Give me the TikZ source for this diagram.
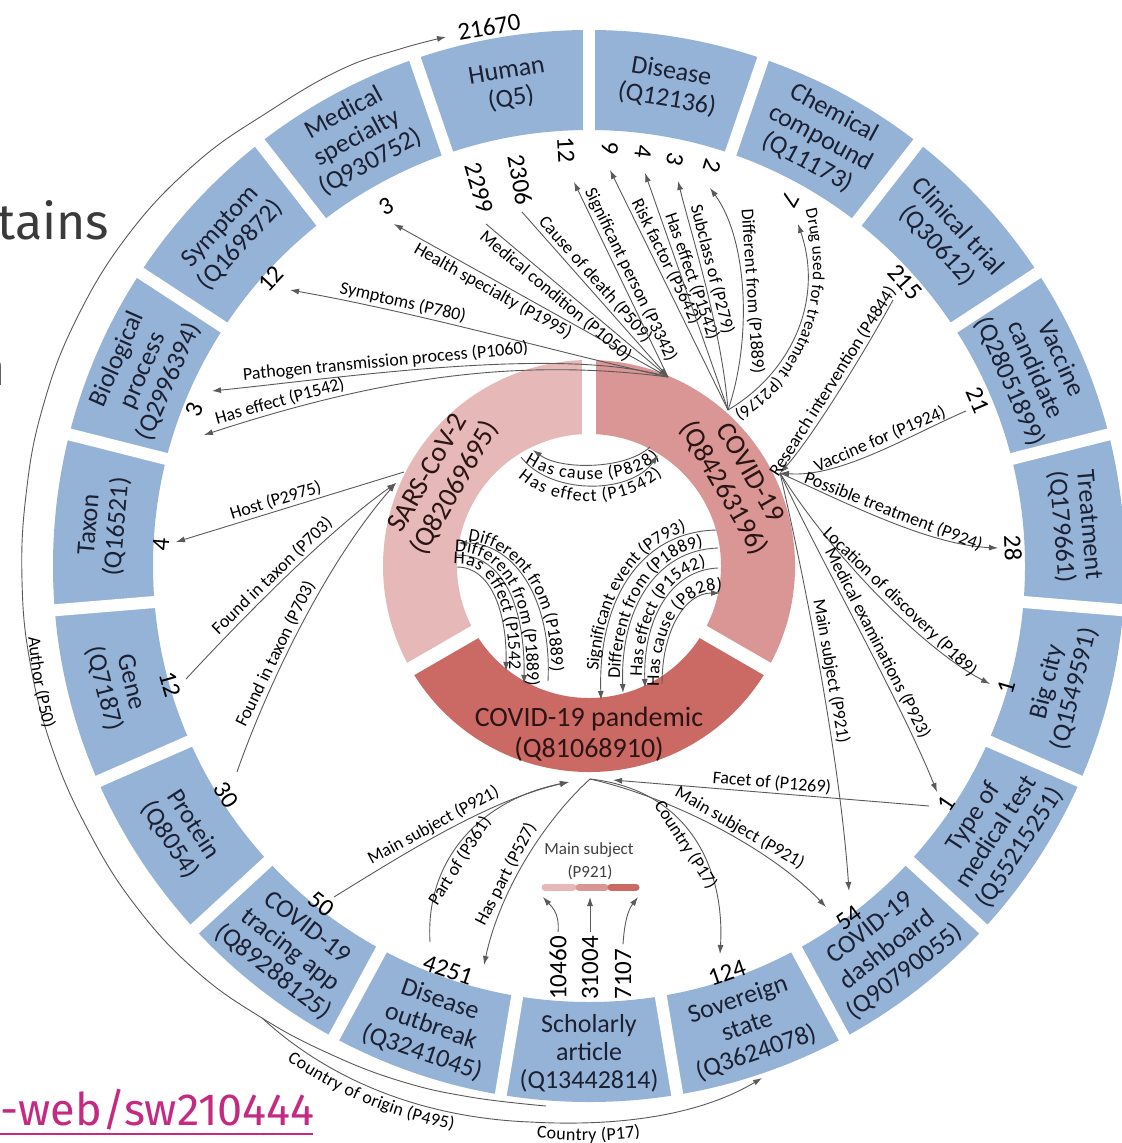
\documentclass[tikz,border=0pt]{standalone}
\usepackage{fontspec}
\setmainfont{Carlito}
\newfontfamily\slidefont{Fira Sans}
\usetikzlibrary{arrows.meta,decorations.text}
\definecolor{boxblue}{HTML}{95B3D7}
\definecolor{sarscol}{HTML}{E6B9B8}
\definecolor{covidcol}{HTML}{D99694}
\definecolor{pandcol}{HTML}{CB6964}
\definecolor{boxtext}{HTML}{1C2033}
\definecolor{ringtext}{HTML}{2B1414}
\definecolor{edgecol}{HTML}{5A5A5A}
\definecolor{linkpink}{HTML}{C52A82}
\definecolor{slidegray}{HTML}{3A3A3A}
\newcommand\labfont{\fontsize{9}{10}\selectfont}
\newcommand\tightlabfont{\fontsize{8.5}{10}\selectfont}
\begin{document}
\begin{tikzpicture}[x={(0.5pt,0)}, y={(0,-0.5pt)},
  boxlab/.style={font=\fontsize{13}{14}\selectfont, text=boxtext, align=center, inner sep=0pt},
  ringlab/.style={font=\fontsize{14}{15.5}\selectfont, text=ringtext, align=center, inner sep=0pt},
  numlab/.style={font=\fontsize{12.5}{14}\selectfont, inner sep=0pt},
  lab/.style={font=\labfont, inner sep=1pt},
  conn/.style={draw=edgecol, line width=0.45pt},
  arrowend/.style={-{Latex[length=4.5pt,width=3pt]}},
]
% page
\fill[white] (0,0) rectangle (1121,1143);
\useasboundingbox (0,0) rectangle (1121,1143);

% fragments of the surrounding slide
\node[anchor=base west, inner sep=0pt, font=\slidefont\fontsize{25}{28}\selectfont, text=slidegray] (slideword) at (-3,240) {tains};
\node[anchor=base east, inner sep=0pt, font=\slidefont\fontsize{25}{28}\selectfont, text=slidegray] (slideletter) at (6,386) {n};
\node[anchor=base west, inner sep=0pt, font=\slidefont\fontsize{22.5}{26}\selectfont, text=linkpink] (slidelink) at (0,1125) {-web/sw210444};
\draw[linkpink, line width=1.2pt] (0,1134) -- (313,1134);

% outer ring of classes
\fill[boxblue, even odd rule] (589,566) circle[radius=536] (589,566) circle[radius=436];
\foreach \k in {0,...,18}{
  \pgfmathsetmacro{\b}{279.4737+\k*18.9474}
  \draw[white, line width=6pt] ({589+425*cos(\b)},{566-425*sin(\b)}) -- ({589+547*cos(\b)},{566-547*sin(\b)});
}
\foreach \a/\t/\n in {
  270/{Scholarly\\article\\(Q13442814)}/bScholarly,
  288.95/{Sovereign\\state\\(Q3624078)}/bSovereign,
  307.89/{COVID-19\\dashboard\\(Q90790055)}/bDashboard,
  326.84/{Type of\\medical test\\(Q55215251)}/bTest,
  345.79/{Big city\\(Q1549591)}/bCity,
  4.74/{Treatment\\(Q179661)}/bTreatment,
  23.68/{Vaccine\\candidate\\(Q28051899)}/bVaccine,
  42.63/{Clinical trial\\(Q30612)}/bTrial,
  61.58/{Chemical\\compound\\(Q11173)}/bChemical,
  80.53/{Disease\\(Q12136)}/bDisease,
  99.47/{Human\\(Q5)}/bHuman,
  118.42/{Medical\\specialty\\(Q930752)}/bSpecialty,
  137.37/{Symptom\\(Q169872)}/bSymptom,
  156.32/{Biological\\process\\(Q2996394)}/bProcess,
  175.26/{Taxon\\(Q16521)}/bTaxon,
  194.21/{Gene\\(Q7187)}/bGene,
  213.16/{Protein\\(Q8054)}/bProtein,
  232.11/{COVID-19\\tracing app\\(Q89288125)}/bApp,
  251.05/{Disease\\outbreak\\(Q3241045)}/bOutbreak}{
  \pgfmathsetmacro{\r}{\a<180 ? \a-90 : \a+90}
  \node[boxlab, rotate=\r] (\n) at ({589+487*cos(\a)},{566-487*sin(\a)}) {\t};
}

% inner ring
\begin{scope}[shift={(589,566)}]
  \fill[sarscol] (-90:206) arc[start angle=-90,end angle=-210,radius=206] -- (-210:132) arc[start angle=-210,end angle=-90,radius=132] -- cycle;
  \fill[covidcol] (30:206) arc[start angle=30,end angle=-90,radius=206] -- (-90:132) arc[start angle=-90,end angle=30,radius=132] -- cycle;
  \fill[pandcol] (-210:206) arc[start angle=-210,end angle=-330,radius=206] -- (-330:132) arc[start angle=-330,end angle=-210,radius=132] -- cycle;
  \foreach \g in {90,210,330} \draw[white, line width=7pt] (-\g:124) -- (-\g:214);
\end{scope}
\node[ringlab, rotate=60] (sars) at (442,481) {SARS-CoV-2\\(Q82069695)};
\node[ringlab, rotate=-60] (covid) at (736,481) {COVID-19\\(Q84263196)};
\node[ringlab] (pand) at (589,734) {COVID-19 pandemic\\(Q81068910)};

% hubs on the inner ring
\coordinate (hA) at (668,377);
\coordinate (hB) at (728,410);
\coordinate (hC) at (780,473);
\coordinate (hD) at (590,779);
\coordinate (hDl) at (569,782);
\coordinate (hDr) at (613,780);
\coordinate (hE) at (396,483);
\coordinate (hE2) at (404,472);

% ends near the outer ring
\coordinate (tSym) at (290,290);
\coordinate (tPat) at (212,391);
\coordinate (tHef) at (204,435);
\coordinate (tHsp) at (394,224);
\coordinate (sMc) at (486,224);
\coordinate (sCod) at (522,212);
\coordinate (tSp) at (574,182);
\coordinate (tRf) at (610,170);
\coordinate (tHe) at (645,173);
\coordinate (tSub) at (678,181);
\coordinate (tDf) at (710,188);
\coordinate (tDrug) at (798,224);
\coordinate (sRi) at (893,300);
\coordinate (sVf) at (966,411);
\coordinate (tPt) at (998,548);
\coordinate (tLod) at (990,684);
\coordinate (tMe) at (937,792);
\coordinate (tMs1) at (849,891);
\coordinate (sFo) at (929,806);
\coordinate (tMs2) at (826,907);
\coordinate (tC124) at (720,954);
\coordinate (sMs50) at (334,897);
\coordinate (sPo) at (430,942);
\coordinate (tHp) at (484,965);
\coordinate (tHost) at (176,542);
\coordinate (sFt1) at (186,679);
\coordinate (sFt2) at (237,772);

% counts
\node[numlab, rotate=10] (n21670) at (489,27) {21670};
\node[numlab, rotate=47] (nSym) at (271,279) {12};
\node[numlab, rotate=68] (nBio) at (194,410) {3};
\node[numlab, rotate=29] (nMsp) at (386,206) {3};
\node[numlab, rotate=-74] (n2299) at (479,188) {2299};
\node[numlab, rotate=-80] (n2306) at (520,180) {2306};
\node[numlab, rotate=-87] (n12h) at (566,150) {12};
\node[numlab, rotate=-93] (n9) at (610,148) {9};
\node[numlab, rotate=-97] (n4) at (643,152) {4};
\node[numlab, rotate=-102] (n3) at (675,159) {3};
\node[numlab, rotate=-107] (n2) at (712,166) {2};
\node[numlab, rotate=-119] (n7) at (790,200) {7};
\node[numlab, rotate=-48] (n215) at (905,282) {215};
\node[numlab, rotate=-67] (n21) at (978,400) {21};
\node[numlab, rotate=-88] (n28) at (1013,548) {28};
\node[numlab, rotate=74] (n1bc) at (1006,687) {1};
\node[numlab, rotate=56] (n1tm) at (946,804) {1};
\node[numlab, rotate=36] (n54) at (849,918) {54};
\node[numlab, rotate=19] (n124) at (727,973) {124};
\node[numlab, rotate=90] (n10460) at (558,968) {10460};
\node[numlab, rotate=90] (n31004) at (590,968) {31004};
\node[numlab, rotate=90] (n7107) at (623,974) {7107};
\node[numlab, rotate=-19] (n4251) at (448,970) {4251};
\node[numlab, rotate=-38] (n50) at (321,904) {50};
\node[numlab, rotate=-57] (n30) at (226,795) {30};
\node[numlab, rotate=-74] (nGene) at (170,684) {12};
\node[numlab, rotate=85] (nTax) at (161,544) {4};

% COVID-19: upper left fan
\draw[conn,arrowend] (hA) .. controls (560,353) and (420,313) .. (tSym) node[lab,sloped,above,pos=0.72] (lSym) {Symptoms (P780)};
\draw[conn,arrowend] (hA) .. controls (560,345) and (340,378) .. (tPat) node[lab,sloped,above,pos=0.62] (lPat) {Pathogen transmission process (P1060)};
\draw[conn,arrowend] (hA) .. controls (520,358) and (385,376) .. (tHef) node[lab,sloped,above,pos=0.85] (lHef) {Has effect (P1542)};
\draw[conn,arrowend] (hA) -- (tHsp) node[lab,sloped,below,pos=0.62] (lHsp) {Health specialty (P1995)};
\draw[conn,arrowend] (sMc) -- (hA) node[lab,sloped,below,pos=0.42] (lMc) {Medical condition (P1050)};
\draw[conn,arrowend] (sCod) -- (hA) node[lab,sloped,above,pos=0.45] (lCod) {Cause of death (P509)};
\draw[conn,arrowend] (hA) -- (tSp) node[lab,sloped,above,pos=0.5] (lSp) {Significant person (P3342)};

% COVID-19: fan towards disease and chemical compound
\draw[conn,arrowend] (hB) -- (tRf) node[lab,sloped,above,pos=0.6] (lRf) {Risk factor (P5642)};
\draw[conn,arrowend] (hB) -- (tHe) node[lab,sloped,above,pos=0.55] (lHe) {Has effect (P1542)};
\draw[conn,arrowend] (hB) .. controls (722,330) and (690,230) .. (tSub) node[lab,sloped,above,pos=0.55] (lSub) {Subclass of (P279)};
\draw[conn,arrowend] (hB) .. controls (752,340) and (748,240) .. (tDf) node[lab,sloped,above,pos=0.5] (lDf) {Different from (P1889)};
\draw[conn,arrowend] (hB) .. controls (792,372) and (824,300) .. (tDrug);
\path[decorate, decoration={text along path, text={|\tightlabfont|Drug used for treatment (P2176)}, text align=center, raise=2pt}] (800,204) .. controls (826,300) and (794,374) .. (726,412);

% COVID-19: right fan
\draw[conn,arrowend] (sRi) .. controls (860,360) and (810,440) .. (hC) node[lab,sloped,above,pos=0.45] (lRi) {Research intervention (P4844)};
\draw[conn,arrowend] (sVf) .. controls (910,435) and (840,478) .. (hC) node[lab,sloped,above,pos=0.45] (lVf) {Vaccine for (P1924)};
\draw[conn,arrowend] (hC) .. controls (850,505) and (930,545) .. (tPt) node[lab,sloped,above,pos=0.5] (lPt) {Possible treatment (P924)};
\draw[conn,arrowend] (hC) .. controls (835,560) and (925,650) .. (tLod) node[lab,sloped,above,pos=0.55] (lLod) {Location of discovery (P189)};
\draw[conn,arrowend] (hC) .. controls (820,560) and (900,700) .. (tMe) node[lab,sloped,above,pos=0.55] (lMe) {Medical examinations (P923)};
\draw[conn,arrowend] (hC) .. controls (805,580) and (840,760) .. (tMs1) node[lab,sloped,above,pos=0.5] (lMs1) {Main subject (P921)};

% SARS-CoV-2: left fan
\draw[conn,arrowend] (hE2) -- (tHost) node[lab,sloped,above,pos=0.55] (lHost) {Host (P2975)};
\draw[conn,arrowend] (sFt1) .. controls (250,610) and (330,530) .. (hE) node[lab,sloped,above,pos=0.45] (lFt1) {Found in taxon (P703)};
\draw[conn,arrowend] (sFt2) .. controls (262,700) and (320,570) .. (hE) node[lab,sloped,above,pos=0.42] (lFt2) {Found in taxon (P703)};

% COVID-19 pandemic: lower fan
\draw[conn,arrowend] (sFo) -- (hDr) node[lab,sloped,above,pos=0.5] (lFo) {Facet of (P1269)};
\draw[conn,arrowend] (hD) .. controls (670,797) and (770,848) .. (tMs2) node[lab,sloped,above,pos=0.57] (lMs2) {Main subject (P921)};
\draw[conn,arrowend] (hD) .. controls (690,790) and (725,870) .. (tC124) node[lab,sloped,below,pos=0.5] (lC124) {Country (P17)};
\draw[conn,arrowend] (sMs50) .. controls (410,850) and (490,800) .. (hDl) node[lab,sloped,above,pos=0.45] (lMs50) {Main subject (P921)};
\draw[conn,arrowend] (sPo) .. controls (425,860) and (480,800) .. (hDl) node[lab,sloped,below,pos=0.4] (lPo) {Part of (P361)};
\draw[conn,arrowend] (hD) .. controls (545,820) and (500,890) .. (tHp) node[lab,sloped,above,pos=0.6] (lHp) {Has part (P527)};

% scholarly articles: main subject legend
\node[font=\fontsize{8.5}{10}\selectfont, text=black!75, inner sep=0pt] (legA) at (589,850) {Main subject};
\node[font=\fontsize{8.5}{10}\selectfont, text=black!75, inner sep=0pt] (legB) at (590,872) {(P921)};
\draw[sarscol, line width=3.5pt, line cap=round] (545,887) -- (573,887);
\draw[covidcol, line width=3.5pt, line cap=round] (579,887) -- (605,887);
\draw[pandcol, line width=3.5pt, line cap=round] (611,887) -- (636,887);
\coordinate (legL) at (543,897);
\coordinate (legM) at (590,897);
\coordinate (legR) at (638,897);
\draw[conn,arrowend] (n10460.east) ++(0,-4) .. controls (560,912) and (550,905) .. (legL);
\draw[conn,arrowend] (n31004.east) ++(0,-4) -- (legM);
\draw[conn,arrowend] (n7107.east) ++(0,-4) .. controls (625,912) and (632,905) .. (legR);

% arcs inside the inner ring
\draw[conn,arrowend] (650,447) .. controls (625,470) and (560,470) .. (533,450);
\path[decorate, decoration={text along path, text={|\labfont|Has cause (P828)}, text align=center, raise=-7.5pt}] (533,450) .. controls (560,470) and (625,470) .. (650,447);
\draw[conn,arrowend, postaction={decorate, decoration={text along path, text={|\labfont|Has effect (P1542)}, text align=center, raise=-8pt}}] (521,457) .. controls (550,495) and (630,495) .. (658,455);

\draw[conn,arrowend] (548,681) .. controls (552,600) and (515,543) .. (458,543);
\path[decorate, decoration={text along path, text={|\labfont|Different from (P1889)}, text align=center, raise=1.5pt}] (458,543) .. controls (515,543) and (552,600) .. (548,681);
\draw[conn,arrowend, postaction={decorate, decoration={text along path, text={|\labfont|Different from (P1889)}, text align=center, raise=1.5pt}}] (457,555) .. controls (505,555) and (525,610) .. (524,684);
\draw[conn,arrowend, postaction={decorate, decoration={text along path, text={|\labfont|Has effect (P1542)}, text align=center, raise=1.5pt}}] (457,567) .. controls (490,567) and (507,610) .. (506,671);

\draw[conn,arrowend] (716,530) .. controls (640,532) and (598,600) .. (601,700);
\path[decorate, decoration={text along path, text={|\labfont|Significant event (P793)}, text align=center, raise=1.5pt}] (601,700) .. controls (598,600) and (640,532) .. (716,530);
\draw[conn,arrowend] (718,548) .. controls (655,550) and (620,610) .. (623,693);
\path[decorate, decoration={text along path, text={|\labfont|Different from (P1889)}, text align=center, raise=1.5pt}] (623,693) .. controls (620,610) and (655,550) .. (718,548);
\draw[conn,arrowend] (718,568) .. controls (670,570) and (643,620) .. (645,688);
\path[decorate, decoration={text along path, text={|\labfont|Has effect (P1542)}, text align=center, raise=1.5pt}] (645,688) .. controls (643,620) and (670,570) .. (718,568);
\draw[conn,arrowend, postaction={decorate, decoration={text along path, text={|\labfont|Has cause (P828)}, text align=center, raise=1.5pt}}] (662,684) .. controls (662,630) and (685,593) .. (720,593);

% arcs outside the outer ring
\coordinate (sAuth) at (546,1106);
\coordinate (tAuth) at (446,37);
\draw[conn,arrowend] plot[smooth, tension=0.7] coordinates {(sAuth) (470,1097) (400,1081) (330,1054) (262,1018) (195,970) (135,905) (88,830) (52,748) (30,662) (22,580) (26,495) (42,410) (75,322) (128,235) (196,163) (268,112) (340,70) (400,49) (tAuth)};
\path[decorate, decoration={text along path, text={|\labfont|Author (P50)}, text align=center, raise=1.5pt}] (23,598) .. controls (25,660) and (33,705) .. (52,768);

\coordinate (sCoo) at (262,1018);
\coordinate (tCty) at (762,1078);
\draw[conn,arrowend] (sCoo) .. controls (335,1085) and (430,1118) .. (530,1122) .. controls (620,1127) and (700,1115) .. (tCty);
\path[decorate, decoration={text along path, text={|\labfont|Country of origin (P495)}, raise=-8pt}] (296,1047) .. controls (350,1085) and (420,1112) .. (500,1121);
\path[decorate, decoration={text along path, text={|\labfont|Country (P17)}, raise=-8pt}] (538,1122) .. controls (580,1126) and (630,1127) .. (700,1110);
\end{tikzpicture}
\end{document}
